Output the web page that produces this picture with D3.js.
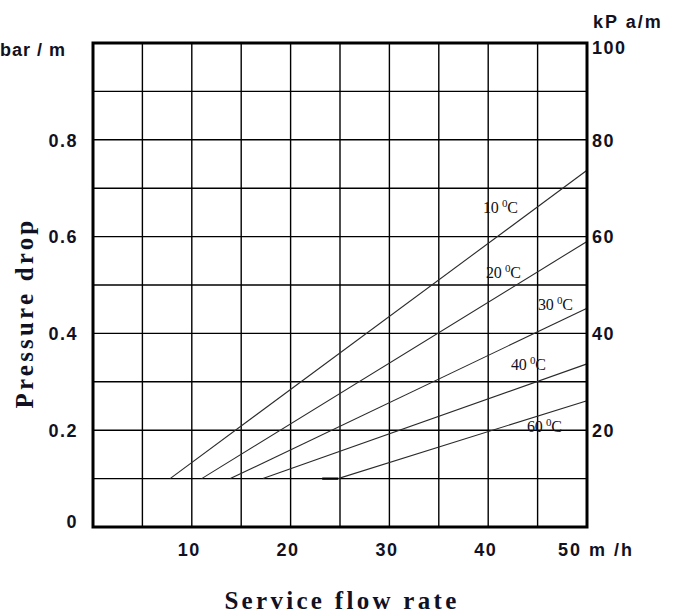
<!DOCTYPE html>
<html>
<head>
<meta charset="utf-8">
<script src="https://cdn.jsdelivr.net/npm/d3@7"></script>
<style>
  html, body { margin: 0; padding: 0; background: #fff; }
  svg { display: block; }
</style>
</head>
<body>
<svg id="chart" width="688" height="613"></svg>
<script>
// ---- data ----
const xTicks = [10, 20, 30, 40, 50];
const yTicksLeft = [0, 0.2, 0.4, 0.6, 0.8];
const yTicksLeftLabels = ["0", "0.2", "0.4", "0.6", "0.8"];
const yTicksRight = [0.2, 0.4, 0.6, 0.8, 1.0];
const yTicksRightLabels = ["20", "40", "60", "80", "100"];
const seriesNames = ["10", "20", "30", "40", "60"];
const series10 = [[7.8, 0.1], [50, 0.737]];
const series20 = [[11.0, 0.1], [50, 0.59]];
const series30 = [[13.9, 0.1], [50, 0.452]];
const series40 = [[17.2, 0.1], [50, 0.337]];
const series60 = [[23.2, 0.1], [24.8, 0.1], [50, 0.261]];
const allSeries = [series10, series20, series30, series40, series60];

// ---- layout ----
const L = 93, R = 587, T = 43, B = 527;
const svg = d3.select("#chart");
const x = d3.scaleLinear().domain([0, 50]).range([L, R]);
const y = d3.scaleLinear().domain([0, 1]).range([B, T]);
const ink = "#111122";

// grid
const gx = d3.range(5, 50, 5);
const gy = d3.range(0.1, 1.0, 0.1);
svg.append("g").selectAll("line").data(gx).join("line")
  .attr("x1", d => x(d)).attr("x2", d => x(d))
  .attr("y1", T).attr("y2", B)
  .attr("stroke", "#000").attr("stroke-width", 1.4);
svg.append("g").selectAll("line").data(gy).join("line")
  .attr("x1", L).attr("x2", R)
  .attr("y1", d => y(d)).attr("y2", d => y(d))
  .attr("stroke", "#000").attr("stroke-width", 1.4);

// curves
const line = d3.line().x(d => x(d[0])).y(d => y(d[1]));
svg.append("g").selectAll("path").data(allSeries).join("path")
  .attr("d", line).attr("fill", "none")
  .attr("stroke", "#2a2a2a").attr("stroke-width", 1.1);
// thicker stub on 60 C start
svg.append("path").attr("d", line(series60.slice(0, 2)))
  .attr("stroke", "#000").attr("stroke-width", 2.2).attr("fill", "none");

// frame
svg.append("rect").attr("x", L).attr("y", T).attr("width", R - L).attr("height", B - T)
  .attr("fill", "none").attr("stroke", "#000").attr("stroke-width", 3);

// axes labels
const sans = "'Liberation Sans', Arial, sans-serif";
const serif = "'Liberation Serif', 'Times New Roman', serif";
const tickFs = 18, tickLs = 1.5;

const bottomAxis = d3.axisBottom(x).tickValues(xTicks).tickSize(0).tickPadding(0)
  .tickFormat(d => d === 50 ? "" : d);
const gb = svg.append("g").attr("transform", `translate(0,${B})`).call(bottomAxis);
gb.select(".domain").remove();
gb.selectAll("text").attr("dy", null).attr("y", 29).attr("x", -3)
  .attr("font-family", sans).attr("font-weight", "bold").attr("font-size", tickFs)
  .attr("letter-spacing", tickLs).attr("fill", ink);
svg.append("text").attr("x", 558).attr("y", B + 29)
  .attr("font-family", sans).attr("font-weight", "bold").attr("font-size", tickFs)
  .attr("letter-spacing", 2).attr("fill", ink).style("white-space", "pre").text("50 m /h");

const leftAxis = d3.axisLeft(y).tickValues(yTicksLeft).tickSize(0).tickPadding(0)
  .tickFormat((d, i) => yTicksLeftLabels[i]);
const gl = svg.append("g").attr("transform", `translate(${L},0)`).call(leftAxis);
gl.select(".domain").remove();
gl.selectAll("text").attr("x", -15).attr("dy", "0.35em")
  .attr("font-family", sans).attr("font-weight", "bold").attr("font-size", tickFs)
  .attr("letter-spacing", tickLs).attr("fill", ink);
gl.selectAll(".tick").filter(d => d === 0).select("text").attr("dy", "0.0em");

const rightAxis = d3.axisRight(y).tickValues(yTicksRight).tickSize(0).tickPadding(0)
  .tickFormat((d, i) => yTicksRightLabels[i]);
const gr = svg.append("g").attr("transform", `translate(${R},0)`).call(rightAxis);
gr.select(".domain").remove();
gr.selectAll("text").attr("x", 5).attr("dy", "0.35em")
  .attr("font-family", sans).attr("font-weight", "bold").attr("font-size", tickFs)
  .attr("letter-spacing", tickLs).attr("fill", ink);
gr.selectAll(".tick").filter(d => d === 1).select("text").attr("dy", "0.6em");

svg.append("text").attr("x", 0).attr("y", 56)
  .attr("font-family", sans).attr("font-weight", "bold").attr("font-size", tickFs)
  .attr("letter-spacing", 1).attr("fill", ink).style("white-space", "pre").text("bar / m");
svg.append("text").attr("x", 593).attr("y", 28)
  .attr("font-family", sans).attr("font-weight", "bold").attr("font-size", tickFs)
  .attr("letter-spacing", 2).attr("fill", ink).style("white-space", "pre").text("kP a/m");

svg.append("text")
  .attr("transform", `translate(33,${(T + B) / 2 + 28}) rotate(-90)`)
  .attr("text-anchor", "middle")
  .attr("font-family", serif).attr("font-weight", "bold").attr("font-size", 25)
  .attr("letter-spacing", 3.2).attr("fill", ink).text("Pressure drop");

svg.append("text").attr("x", 342).attr("y", 609)
  .attr("text-anchor", "middle")
  .attr("font-family", serif).attr("font-weight", "bold").attr("font-size", 25)
  .attr("letter-spacing", 3.3).attr("fill", ink).text("Service flow rate");

// curve labels (pixel anchors relative to plot)
const labelPix = [[483, 213], [486, 278], [538, 310], [511, 370], [527, 432]];
seriesNames.forEach((n, i) => {
  const t = svg.append("text").attr("x", labelPix[i][0]).attr("y", labelPix[i][1])
    .attr("font-family", serif).attr("font-size", 16).attr("fill", ink)
    .attr("letter-spacing", -0.3);
  t.append("tspan").text(n + " ");
  t.append("tspan").attr("font-size", 11).attr("dy", -6).text("0");
  t.append("tspan").attr("dy", 6).text("C");
});
</script>
</body>
</html>
